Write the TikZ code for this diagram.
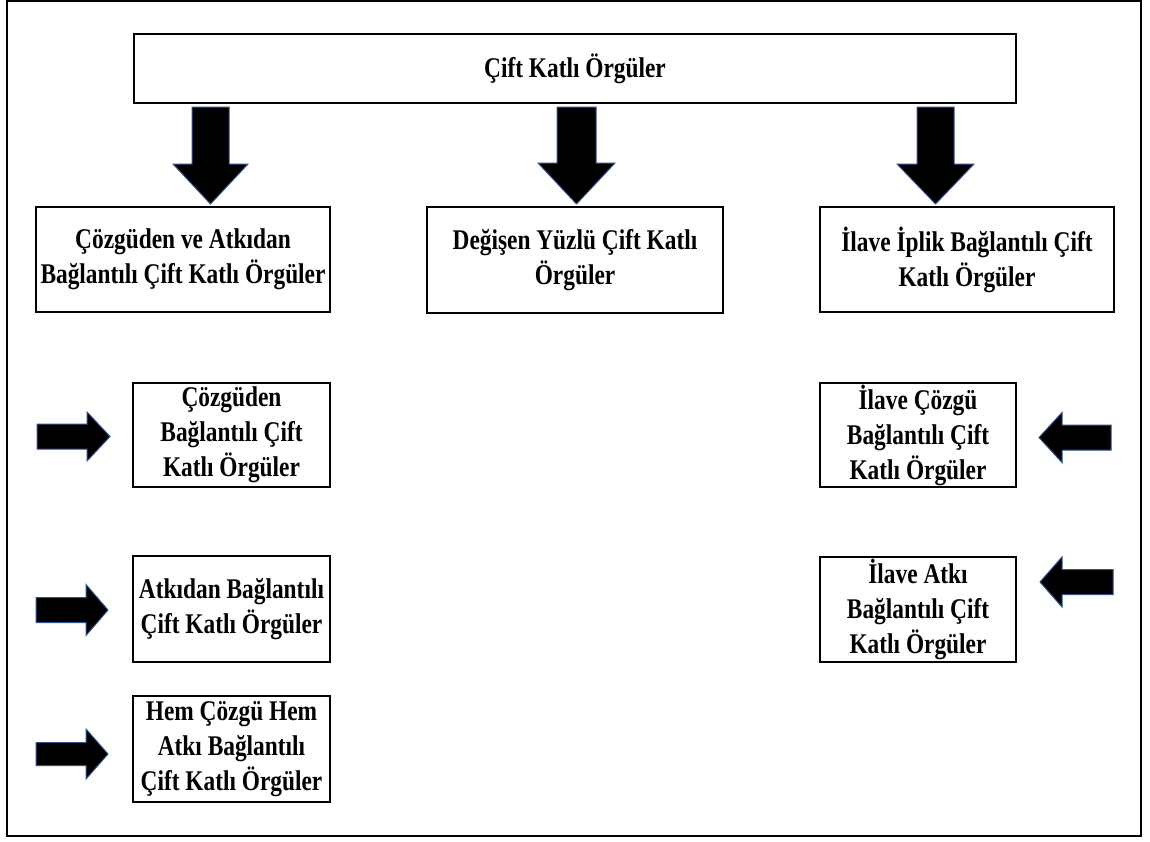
\documentclass[tikz,border=0pt]{standalone}
\usepackage{fontspec}
\setmainfont{Liberation Serif}[FakeStretch=0.82]
\definecolor{arrowedge}{RGB}{47,82,143}
\tikzset{
  box/.style={draw=black, line width=2pt, fill=white, align=center, inner sep=0pt,
    font=\bfseries\fontsize{28.5}{35}\selectfont},
  blockarrowstyle/.style={fill=black, draw=arrowedge, line width=1pt, line join=miter}
}
% #1 start point, #2 rotation, #3 length, #4 shaft half width, #5 head half width, #6 head length
\newcommand{\blkarrow}[6]{%
  \path[blockarrowstyle, shift={#1}, rotate=#2]
    (0,-#4) -- ({#3-#6},-#4) -- ({#3-#6},-#5) -- (#3,0) -- ({#3-#6},#5)
    -- ({#3-#6},#4) -- (0,#4) -- cycle;}
\begin{document}
\begin{tikzpicture}[x=1pt, y=-1pt]
\useasboundingbox (0,0) rectangle (1150,841);
\fill[white] (0,0) rectangle (1150,841);
% outer frame
\draw[line width=1.5pt] (7,1) rectangle (1141,836);

% boxes
\node[box, minimum width=882pt, minimum height=69pt] (top) at (575,68.5) {Çift Katlı Örgüler};
\node[box, minimum width=294pt, minimum height=105pt] (b1) at (183,259.5) {Çözgüden ve Atkıdan\\Bağlantılı Çift Katlı Örgüler};
\node[box, minimum width=296pt, minimum height=106pt] (b2) at (575,260) {Değişen Yüzlü Çift Katlı\\Örgüler};
\node[box, minimum width=294pt, minimum height=105pt] (b3) at (967,259.5) {İlave İplik Bağlantılı Çift\\Katlı Örgüler};

\node[box, minimum width=197pt, minimum height=104pt] (l1) at (231.5,435) {Çözgüden\\Bağlantılı Çift\\Katlı Örgüler};
\node[box, minimum width=197pt, minimum height=106pt] (l2) at (231.5,609) {Atkıdan Bağlantılı\\Çift Katlı Örgüler};
\node[box, minimum width=197pt, minimum height=106pt] (l3) at (231.5,749) {Hem Çözgü Hem\\Atkı Bağlantılı\\Çift Katlı Örgüler};

\node[box, minimum width=196pt, minimum height=104pt] (r1) at (918,435) {İlave Çözgü\\Bağlantılı Çift\\Katlı Örgüler};
\node[box, minimum width=196pt, minimum height=105pt] (r2) at (918,609.5) {İlave Atkı\\Bağlantılı Çift\\Katlı Örgüler};

% down block arrows
\blkarrow{(210.5,107)}{-90}{97}{18.5}{37.5}{40}
\blkarrow{(576.5,107)}{-90}{97}{19.5}{38.5}{41}
\blkarrow{(935.5,107)}{-90}{97}{18.5}{38.5}{40}

% right-pointing block arrows
\blkarrow{(37,436.5)}{0}{73}{12.5}{24.5}{23}
\blkarrow{(36,610)}{0}{72}{12.5}{25.5}{22}
\blkarrow{(36,754)}{0}{72}{11.5}{25}{22}

% left-pointing block arrows
\blkarrow{(1111,437.5)}{180}{72}{12.5}{25}{23}
\blkarrow{(1113,582)}{180}{73}{12.5}{25}{22}
\end{tikzpicture}
\end{document}
